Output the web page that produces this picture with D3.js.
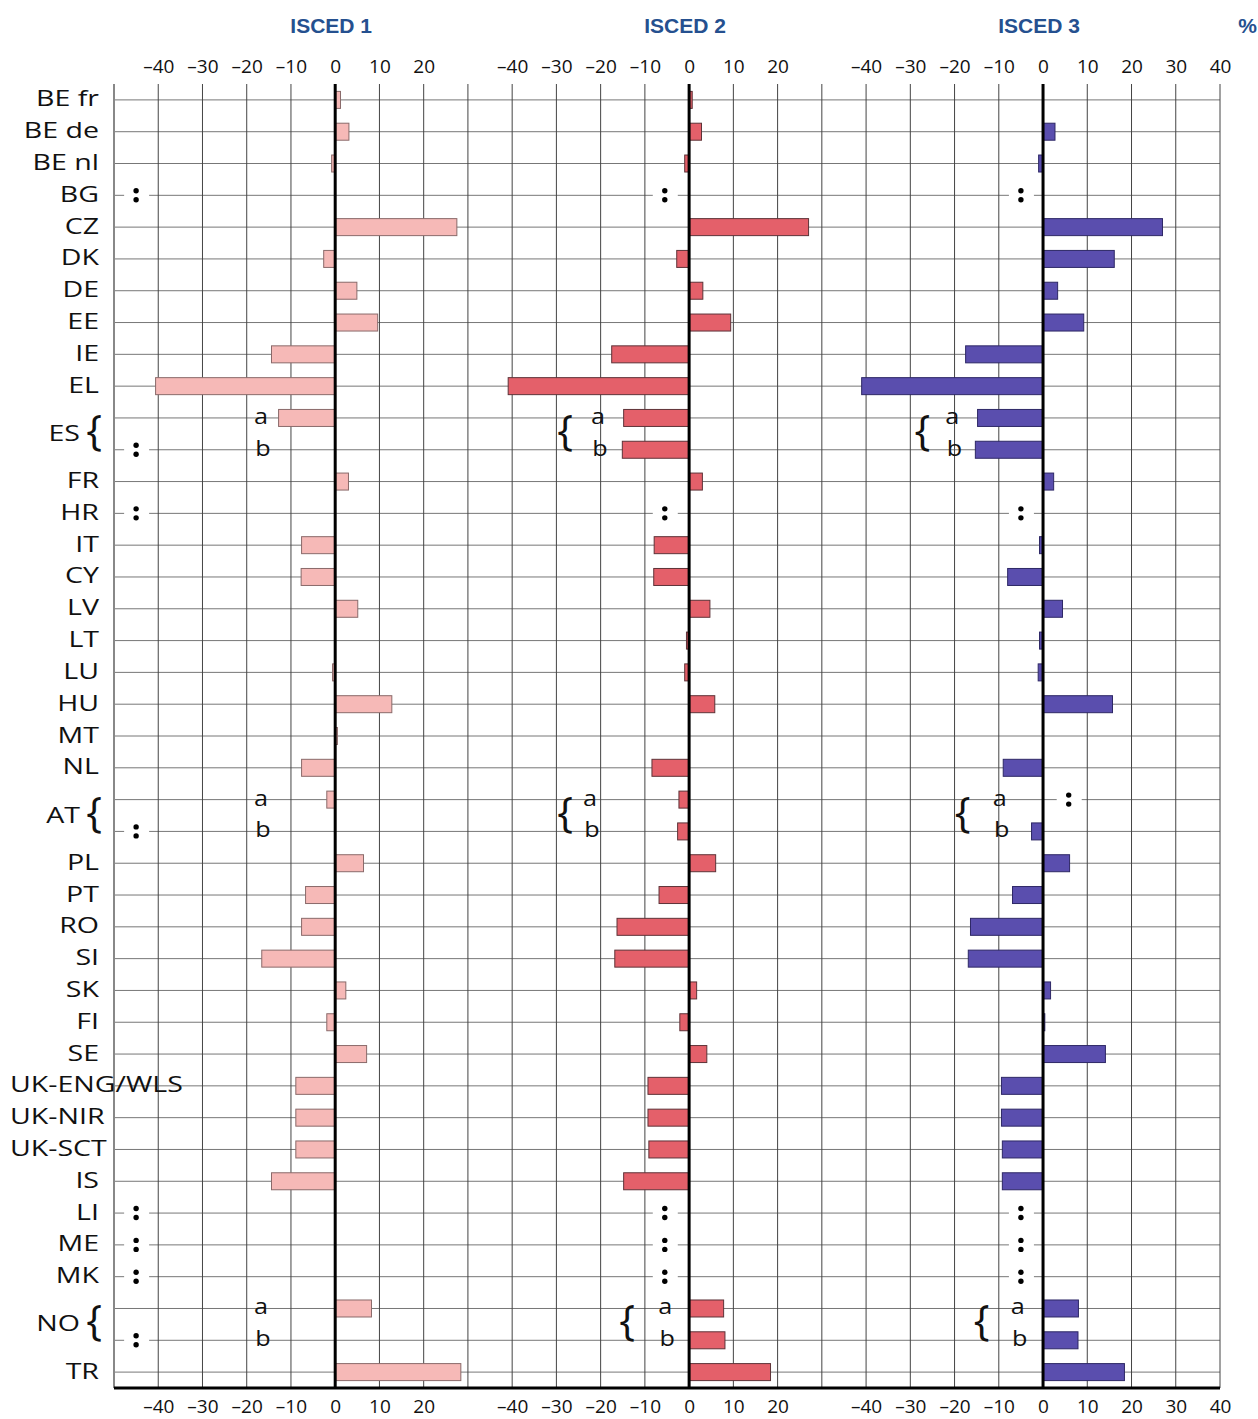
<!DOCTYPE html>
<html>
<head>
<meta charset="utf-8">
<script src="https://cdn.jsdelivr.net/npm/d3@7"></script>
<style>
  body { margin: 0; background: #fff; }
  svg { display: block; }
</style>
</head>
<body>
<svg id="chart" width="1258" height="1419"></svg>
<script>
// rows of the chart, top to bottom ("X a" / "X b" are sub rows of X)
const rows = ["BE fr","BE de","BE nl","BG","CZ","DK","DE","EE","IE","EL","ES a","ES b","FR","HR","IT","CY","LV","LT","LU","HU","MT","NL","AT a","AT b","PL","PT","RO","SI","SK","FI","SE","UK-ENG/WLS","UK-NIR","UK-SCT","IS","LI","ME","MK","NO a","NO b","TR"];

// null = not available (":")
const isced1 = [1.2,3.1,-0.8,null,27.5,-2.6,4.9,9.6,-14.4,-40.6,-12.8,null,3.0,null,-7.6,-7.7,5.1,0,-0.6,12.8,0.5,-7.6,-1.9,null,6.4,-6.7,-7.6,-16.6,2.4,-1.9,7.1,-8.9,-8.9,-8.9,-14.4,null,null,null,8.2,null,28.4];
const isced2 = [0.7,2.8,-1.0,null,27.0,-2.8,3.1,9.4,-17.5,-40.9,-14.8,-15.1,3.0,null,-7.9,-8.0,4.7,-0.6,-1.0,5.8,0,-8.4,-2.3,-2.6,6.0,-6.8,-16.3,-16.8,1.7,-2.1,4.0,-9.3,-9.3,-9.1,-14.8,null,null,null,7.8,8.1,18.4];
const isced3 = [0,2.7,-1.0,null,27.0,16.1,3.3,9.2,-17.5,-41.0,-14.8,-15.3,2.4,null,-0.8,-8.0,4.4,-0.8,-1.1,15.7,0,-9.0,null,-2.6,6.0,-6.9,-16.4,-16.9,1.7,0.4,14.1,-9.4,-9.4,-9.2,-9.2,null,null,null,8.0,7.9,18.4];

const panelTitles = ["ISCED 1","ISCED 2","ISCED 3"];
const panelTicks = [[-40,-30,-20,-10,0,10,20],[-40,-30,-20,-10,0,10,20],[-40,-30,-20,-10,0,10,20,30,40]];

// layout only: where the braces, a/b letters and ":" sit in each panel (data units)
const braceAt = {ES:[null,-28,-27.3], AT:[null,-28,-18.2], NO:[null,-14,-13.9]};
const letterAt = {ES:[-16.8,-20.6,-20.5], AT:[-16.8,-22.4,-9.8], NO:[-16.8,-5.4,-5.7]};
const colonAt = [-45,-5.5,-5];
const colonOverride = {"AT a|2": 5.8};

const series = [isced1, isced2, isced3];
const fills = ["#f6b9b7","#e4606a","#5a4eae"];
const strokes = ["#8a6a6a","#5e3338","#2e2866"];

const svg = d3.select('#chart');
const leftX = 114, rightX = 1220, topY = 84, bottomY = 1388;
const offsets = [0, 80, 160];

const xAll = d3.scaleLinear().domain([-50, 200]).range([leftX, rightX]);
const xp = offsets.map(o => d3.scaleLinear().domain([-50 - o, 200 - o]).range([leftX, rightX]));
const y = d3.scaleBand().domain(rows).range([topY, bottomY]);
const cy = r => y(r) + y.bandwidth() / 2;
const barH = 17;
const stretch = 1.36;

// horizontal grid
svg.append('g').selectAll('line').data(rows).enter().append('line')
  .attr('x1', leftX).attr('x2', rightX)
  .attr('y1', d => cy(d)).attr('y2', d => cy(d))
  .attr('stroke', '#777').attr('stroke-width', 1);

// vertical grid
svg.append('g').selectAll('line').data(d3.range(-40, 201, 10)).enter().append('line')
  .attr('x1', d => xAll(d)).attr('x2', d => xAll(d))
  .attr('y1', topY).attr('y2', bottomY)
  .attr('stroke', '#444').attr('stroke-width', 1);

// left frame
svg.append('line').attr('x1', leftX).attr('x2', leftX).attr('y1', topY).attr('y2', bottomY)
  .attr('stroke', '#888').attr('stroke-width', 2);

const fmt = d => d < 0 ? '\u2013' + Math.abs(d) : String(d);

series.forEach((vals, p) => {
  const x = xp[p];
  const g = svg.append('g');

  // bars
  g.selectAll('rect').data(rows.map((r, i) => ({r: r, v: vals[i]})).filter(d => d.v !== null && d.v !== 0))
    .enter().append('rect')
    .attr('x', d => Math.min(x(0), x(d.v)))
    .attr('width', d => Math.abs(x(d.v) - x(0)))
    .attr('y', d => cy(d.r) - barH / 2)
    .attr('height', barH)
    .attr('fill', fills[p]).attr('stroke', strokes[p]).attr('stroke-width', 1);

  // not available markers
  const miss = rows.filter((r, i) => vals[i] === null);
  const cg = g.selectAll('g.na').data(miss).enter().append('g')
    .attr('transform', d => {
      const v = colonOverride[d + '|' + p] !== undefined ? colonOverride[d + '|' + p] : colonAt[p];
      return 'translate(' + x(v) + ',' + cy(d) + ')';
    });
  cg.append('rect').attr('x', -12).attr('y', -3).attr('width', 25).attr('height', 6).attr('fill', '#fff');
  cg.append('circle').attr('cy', -4.5).attr('r', 2.7).attr('fill', '#000');
  cg.append('circle').attr('cy', 4.5).attr('r', 2.7).attr('fill', '#000');

  // zero line
  g.append('line').attr('x1', x(0)).attr('x2', x(0)).attr('y1', topY).attr('y2', bottomY)
    .attr('stroke', '#000').attr('stroke-width', 3);

  // axes
  const at = svg.append('g').attr('transform', 'translate(0,73)')
    .call(d3.axisTop(x).tickValues(panelTicks[p]).tickSize(0).tickPadding(0).tickFormat(fmt));
  const ab = svg.append('g').attr('transform', 'translate(0,1413)')
    .call(d3.axisBottom(x).tickValues(panelTicks[p]).tickSize(0).tickPadding(0).tickFormat(fmt));
  [at, ab].forEach(a => {
    a.select('.domain').remove();
    a.selectAll('text').attr('y', 0).attr('dy', 0)
      .attr('font-family', "'Open Sans', sans-serif").attr('font-size', 19).attr('fill', '#111');
  });

  // title
  svg.append('text').attr('x', x(0) - 4).attr('y', 33).attr('text-anchor', 'middle')
    .attr('font-family', "'Liberation Sans', Arial, sans-serif").attr('font-weight', 'bold')
    .attr('font-size', 21).attr('fill', '#25508f').text(panelTitles[p]);

  // braces and a/b letters
  Object.keys(letterAt).forEach(c => {
    const ya = cy(c + ' a'), yb = cy(c + ' b');
    ['a', 'b'].forEach((s, k) => {
      const yy = k === 0 ? ya : yb;
      svg.append('g').attr('transform', 'translate(' + (x(letterAt[c][p]) + k * 2) + ',' + (yy + 6) + ') scale(1.2,1)')
        .append('text').attr('text-anchor', 'middle')
        .attr('font-family', "'Open Sans', sans-serif").attr('font-size', 21).attr('fill', '#111').text(s);
    });
    if (braceAt[c][p] !== null) {
      svg.append('text').attr('x', x(braceAt[c][p])).attr('y', (ya + yb) / 2 + 11)
        .attr('text-anchor', 'middle').attr('font-family', "'Open Sans', sans-serif")
        .attr('font-size', 42).attr('fill', '#111').text('{');
    }
  });
});

// bottom axis line
svg.append('line').attr('x1', leftX).attr('x2', rightX).attr('y1', bottomY).attr('y2', bottomY)
  .attr('stroke', '#000').attr('stroke-width', 3);

svg.append('text').attr('x', 1257).attr('y', 33).attr('text-anchor', 'end')
  .attr('font-family', "'Liberation Sans', Arial, sans-serif").attr('font-weight', 'bold')
  .attr('font-size', 21).attr('fill', '#25508f').text('%');

// row labels
const groups = [];
rows.forEach(r => {
  const m = r.match(/^(.*) ([ab])$/);
  if (!m) groups.push({name: r, y: cy(r) + 6.5});
  else if (m[2] === 'a') groups.push({name: m[1], y: (cy(r) + cy(m[1] + ' b')) / 2 + 7, sub: true});
});

groups.forEach(d => {
  const isUK = d.name.startsWith('UK');
  const gx = isUK ? 10 : (d.sub ? 80 : 99);
  svg.append('g').attr('transform', 'translate(' + gx + ',' + d.y + ') scale(' + stretch + ',1)')
    .append('text').attr('text-anchor', isUK ? 'start' : 'end')
    .attr('font-family', "'Open Sans', sans-serif").attr('font-size', 21).attr('fill', '#111')
    .text(d.name);
  if (d.sub) {
    svg.append('text').attr('x', 94).attr('y', d.y + 4)
      .attr('text-anchor', 'middle').attr('font-family', "'Open Sans', sans-serif")
      .attr('font-size', 42).attr('fill', '#111').text('{');
  }
});
</script>
</body>
</html>
